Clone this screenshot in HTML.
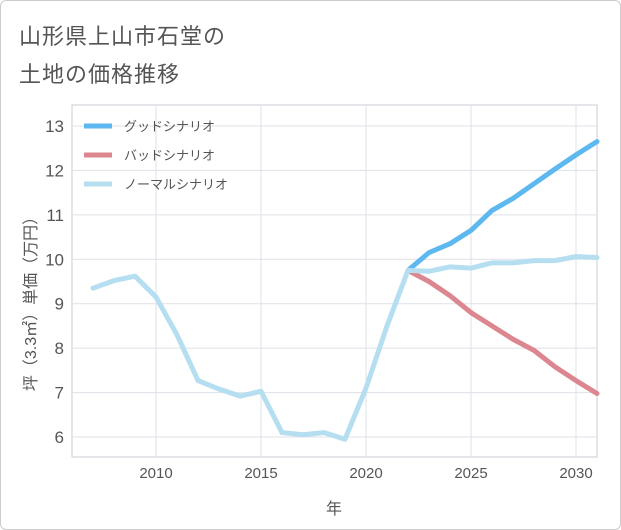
<!DOCTYPE html>
<html><head><meta charset="utf-8"><style>
body{margin:0;background:#fff;font-family:"Liberation Sans","Noto Sans CJK JP",sans-serif;}
#wrap{position:relative;width:619px;height:528px;border:1px solid #ccc;border-radius:6px;overflow:hidden;}
.t{position:absolute;left:18px;font-size:22px;color:#555;letter-spacing:1px;}
</style></head><body>
<div id="wrap">
<div class="t" style="top:18px">山形県上山市石堂の</div>
<div class="t" style="top:56px">土地の価格推移</div>
<svg id="svg" width="621" height="530" style="position:absolute;left:-1px;top:-1px"></svg>
</div>
<script>
const years=[2007,2008,2009,2010,2011,2012,2013,2014,2015,2016,2017,2018,2019,2020,2021,2022,2023,2024,2025,2026,2027,2028,2029,2030,2031];
const normal=[9.35,9.52,9.62,9.15,8.3,7.27,7.08,6.92,7.03,6.1,6.05,6.1,5.95,7.1,8.5,9.75,9.73,9.83,9.8,9.92,9.92,9.97,9.97,10.06,10.04];
const goodYears=[2022,2023,2024,2025,2026,2027,2028,2029,2030,2031];
const good=[9.75,10.15,10.35,10.65,11.1,11.37,11.7,12.03,12.35,12.65];
const bad=[9.75,9.5,9.18,8.8,8.5,8.2,7.95,7.58,7.27,6.98];
const xTicks=[2010,2015,2020,2025,2030];
const yTicks=[6,7,8,9,10,11,12,13];
const X0=72,X1=597,Y0=105,Y1=457;
const xs=y=>156+(y-2010)*21;
const ys=v=>126+(13-v)*44.43;
const svg=document.getElementById('svg');
const NS='http://www.w3.org/2000/svg';
function mk(t,a){const e=document.createElementNS(NS,t);for(const k in a)e.setAttribute(k,a[k]);svg.appendChild(e);return e;}
let bg=mk('rect',{x:X0,y:Y0,width:X1-X0,height:Y1-Y0,fill:'#fff',stroke:'#c8ccd4'});


xTicks.forEach(t=>{
 let l=mk('line',{x1:xs(t),x2:xs(t),y1:Y0,y2:Y1,stroke:'#dde1e8'});
 
 
 let tx=mk('text',{x:xs(t),y:478,'text-anchor':'middle','font-size':15,fill:'#555'});tx.textContent=t;
 
 
});
yTicks.forEach(t=>{
 let l=mk('line',{x1:X0,x2:X1,y1:ys(t),y2:ys(t),stroke:'#dde1e8'});
 
 
 let tx=mk('text',{x:64,y:ys(t)+6,'text-anchor':'end','font-size':17,fill:'#555'});tx.textContent=t;
 
 
});
let xt=mk('text',{x:334,y:514,'text-anchor':'middle','font-size':16,fill:'#555'});xt.textContent='年';


let yt=mk('text',{x:0,y:0,'text-anchor':'middle','font-size':16,fill:'#555',transform:'translate(36,300) rotate(-90)'});yt.textContent='坪（3.3㎡）単価（万円）';


function line(xv,yv,color,name){
 const d=xv.map((x,i)=>(i?'L':'M')+xs(x)+','+ys(yv[i])).join('');
 let p=mk('path',{d:d,fill:'none',stroke:color,'stroke-width':5,'stroke-linejoin':'round','stroke-linecap':'round'});
 
 
}
line(goodYears,good,'#5db8f0','good-scenario-line');
line(goodYears,bad,'#dc8790','bad-scenario-line');
line(years,normal,'#b5dff0','normal-scenario-line');
const leg=[['グッドシナリオ','#5db8f0'],['バッドシナリオ','#dc8790'],['ノーマルシナリオ','#b5dff0']];
leg.forEach((e,i)=>{
 const y=126+i*29;
 let l=mk('line',{x1:84,x2:112,y1:y,y2:y,stroke:e[1],'stroke-width':5});
 
 
 let t=mk('text',{x:124,y:y+5,'font-size':13,fill:'#555'});t.textContent=e[0];
 
 
});
</script>
</body></html>
